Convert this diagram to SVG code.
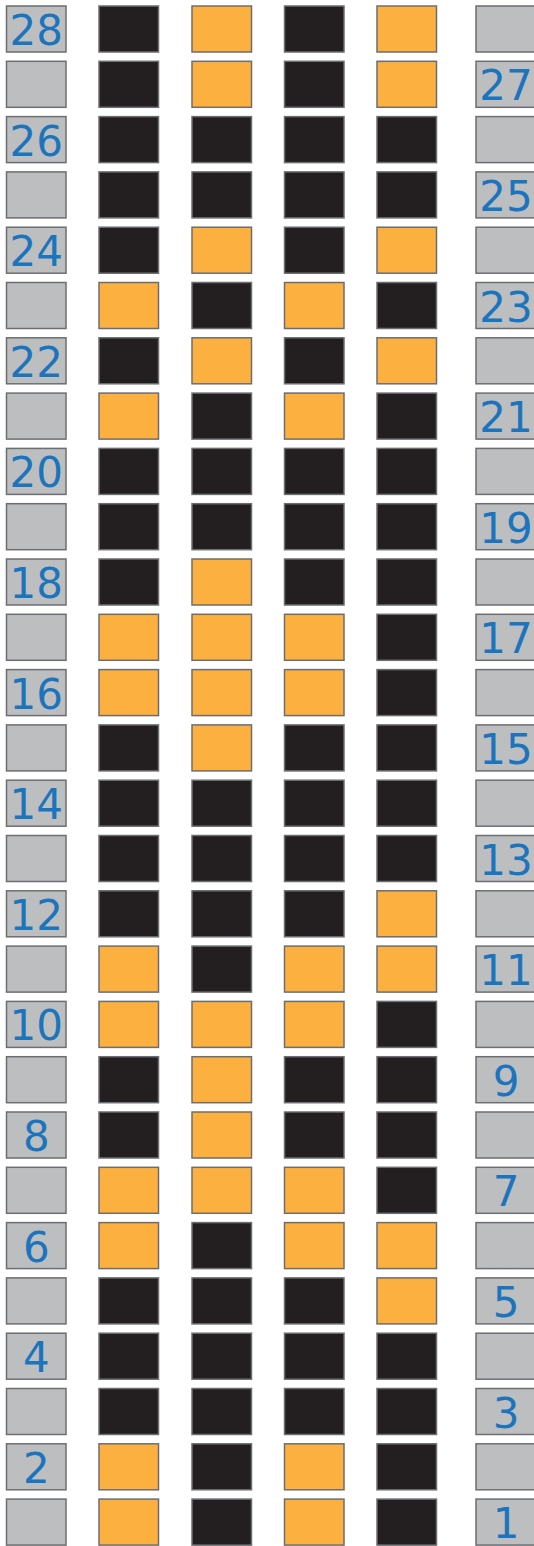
<svg xmlns="http://www.w3.org/2000/svg" width="534" height="1546" viewBox="0 0 534 1546">
<style>
rect{stroke:#6d6e71;stroke-width:1.5}
.g{fill:#bcbec0}.k{fill:#231f20}.o{fill:#fbb040}
text{font-family:"DejaVu Sans",sans-serif;font-size:42px;fill:#1c75bc;text-anchor:middle}
</style>
<rect width="534" height="1546" fill="#ffffff" style="stroke:none"/>
<g id="connectors"></g>
<g id="row28" transform="translate(0,6)"><g id="n28-1"><rect class="g" x="6.5" width="59.5" height="46"/><text x="36.3" y="39">28</text></g><g id="n28-2"><rect class="k" x="99" width="59.5" height="46"/></g><g id="n28-3"><rect class="o" x="192" width="59.5" height="46"/></g><g id="n28-4"><rect class="k" x="284.5" width="59.5" height="46"/></g><g id="n28-5"><rect class="o" x="377" width="59.5" height="46"/></g><g id="n28-6"><rect class="g" x="476" width="60" height="46"/></g></g>
<g id="row27" transform="translate(0,61.3)"><g id="n27-1"><rect class="g" x="6.5" width="59.5" height="46"/></g><g id="n27-2"><rect class="k" x="99" width="59.5" height="46"/></g><g id="n27-3"><rect class="o" x="192" width="59.5" height="46"/></g><g id="n27-4"><rect class="k" x="284.5" width="59.5" height="46"/></g><g id="n27-5"><rect class="o" x="377" width="59.5" height="46"/></g><g id="n27-6"><rect class="g" x="476" width="60" height="46"/><text x="506" y="39">27</text></g></g>
<g id="row26" transform="translate(0,116.6)"><g id="n26-1"><rect class="g" x="6.5" width="59.5" height="46"/><text x="36.3" y="39">26</text></g><g id="n26-2"><rect class="k" x="99" width="59.5" height="46"/></g><g id="n26-3"><rect class="k" x="192" width="59.5" height="46"/></g><g id="n26-4"><rect class="k" x="284.5" width="59.5" height="46"/></g><g id="n26-5"><rect class="k" x="377" width="59.5" height="46"/></g><g id="n26-6"><rect class="g" x="476" width="60" height="46"/></g></g>
<g id="row25" transform="translate(0,171.9)"><g id="n25-1"><rect class="g" x="6.5" width="59.5" height="46"/></g><g id="n25-2"><rect class="k" x="99" width="59.5" height="46"/></g><g id="n25-3"><rect class="k" x="192" width="59.5" height="46"/></g><g id="n25-4"><rect class="k" x="284.5" width="59.5" height="46"/></g><g id="n25-5"><rect class="k" x="377" width="59.5" height="46"/></g><g id="n25-6"><rect class="g" x="476" width="60" height="46"/><text x="506" y="39">25</text></g></g>
<g id="row24" transform="translate(0,227.2)"><g id="n24-1"><rect class="g" x="6.5" width="59.5" height="46"/><text x="36.3" y="39">24</text></g><g id="n24-2"><rect class="k" x="99" width="59.5" height="46"/></g><g id="n24-3"><rect class="o" x="192" width="59.5" height="46"/></g><g id="n24-4"><rect class="k" x="284.5" width="59.5" height="46"/></g><g id="n24-5"><rect class="o" x="377" width="59.5" height="46"/></g><g id="n24-6"><rect class="g" x="476" width="60" height="46"/></g></g>
<g id="row23" transform="translate(0,282.5)"><g id="n23-1"><rect class="g" x="6.5" width="59.5" height="46"/></g><g id="n23-2"><rect class="o" x="99" width="59.5" height="46"/></g><g id="n23-3"><rect class="k" x="192" width="59.5" height="46"/></g><g id="n23-4"><rect class="o" x="284.5" width="59.5" height="46"/></g><g id="n23-5"><rect class="k" x="377" width="59.5" height="46"/></g><g id="n23-6"><rect class="g" x="476" width="60" height="46"/><text x="506" y="39">23</text></g></g>
<g id="row22" transform="translate(0,337.8)"><g id="n22-1"><rect class="g" x="6.5" width="59.5" height="46"/><text x="36.3" y="39">22</text></g><g id="n22-2"><rect class="k" x="99" width="59.5" height="46"/></g><g id="n22-3"><rect class="o" x="192" width="59.5" height="46"/></g><g id="n22-4"><rect class="k" x="284.5" width="59.5" height="46"/></g><g id="n22-5"><rect class="o" x="377" width="59.5" height="46"/></g><g id="n22-6"><rect class="g" x="476" width="60" height="46"/></g></g>
<g id="row21" transform="translate(0,393.1)"><g id="n21-1"><rect class="g" x="6.5" width="59.5" height="46"/></g><g id="n21-2"><rect class="o" x="99" width="59.5" height="46"/></g><g id="n21-3"><rect class="k" x="192" width="59.5" height="46"/></g><g id="n21-4"><rect class="o" x="284.5" width="59.5" height="46"/></g><g id="n21-5"><rect class="k" x="377" width="59.5" height="46"/></g><g id="n21-6"><rect class="g" x="476" width="60" height="46"/><text x="506" y="39">21</text></g></g>
<g id="row20" transform="translate(0,448.4)"><g id="n20-1"><rect class="g" x="6.5" width="59.5" height="46"/><text x="36.3" y="39">20</text></g><g id="n20-2"><rect class="k" x="99" width="59.5" height="46"/></g><g id="n20-3"><rect class="k" x="192" width="59.5" height="46"/></g><g id="n20-4"><rect class="k" x="284.5" width="59.5" height="46"/></g><g id="n20-5"><rect class="k" x="377" width="59.5" height="46"/></g><g id="n20-6"><rect class="g" x="476" width="60" height="46"/></g></g>
<g id="row19" transform="translate(0,503.7)"><g id="n19-1"><rect class="g" x="6.5" width="59.5" height="46"/></g><g id="n19-2"><rect class="k" x="99" width="59.5" height="46"/></g><g id="n19-3"><rect class="k" x="192" width="59.5" height="46"/></g><g id="n19-4"><rect class="k" x="284.5" width="59.5" height="46"/></g><g id="n19-5"><rect class="k" x="377" width="59.5" height="46"/></g><g id="n19-6"><rect class="g" x="476" width="60" height="46"/><text x="506" y="39">19</text></g></g>
<g id="row18" transform="translate(0,559)"><g id="n18-1"><rect class="g" x="6.5" width="59.5" height="46"/><text x="36.3" y="39">18</text></g><g id="n18-2"><rect class="k" x="99" width="59.5" height="46"/></g><g id="n18-3"><rect class="o" x="192" width="59.5" height="46"/></g><g id="n18-4"><rect class="k" x="284.5" width="59.5" height="46"/></g><g id="n18-5"><rect class="k" x="377" width="59.5" height="46"/></g><g id="n18-6"><rect class="g" x="476" width="60" height="46"/></g></g>
<g id="row17" transform="translate(0,614.3)"><g id="n17-1"><rect class="g" x="6.5" width="59.5" height="46"/></g><g id="n17-2"><rect class="o" x="99" width="59.5" height="46"/></g><g id="n17-3"><rect class="o" x="192" width="59.5" height="46"/></g><g id="n17-4"><rect class="o" x="284.5" width="59.5" height="46"/></g><g id="n17-5"><rect class="k" x="377" width="59.5" height="46"/></g><g id="n17-6"><rect class="g" x="476" width="60" height="46"/><text x="506" y="39">17</text></g></g>
<g id="row16" transform="translate(0,669.6)"><g id="n16-1"><rect class="g" x="6.5" width="59.5" height="46"/><text x="36.3" y="39">16</text></g><g id="n16-2"><rect class="o" x="99" width="59.5" height="46"/></g><g id="n16-3"><rect class="o" x="192" width="59.5" height="46"/></g><g id="n16-4"><rect class="o" x="284.5" width="59.5" height="46"/></g><g id="n16-5"><rect class="k" x="377" width="59.5" height="46"/></g><g id="n16-6"><rect class="g" x="476" width="60" height="46"/></g></g>
<g id="row15" transform="translate(0,724.9)"><g id="n15-1"><rect class="g" x="6.5" width="59.5" height="46"/></g><g id="n15-2"><rect class="k" x="99" width="59.5" height="46"/></g><g id="n15-3"><rect class="o" x="192" width="59.5" height="46"/></g><g id="n15-4"><rect class="k" x="284.5" width="59.5" height="46"/></g><g id="n15-5"><rect class="k" x="377" width="59.5" height="46"/></g><g id="n15-6"><rect class="g" x="476" width="60" height="46"/><text x="506" y="39">15</text></g></g>
<g id="row14" transform="translate(0,780.2)"><g id="n14-1"><rect class="g" x="6.5" width="59.5" height="46"/><text x="36.3" y="39">14</text></g><g id="n14-2"><rect class="k" x="99" width="59.5" height="46"/></g><g id="n14-3"><rect class="k" x="192" width="59.5" height="46"/></g><g id="n14-4"><rect class="k" x="284.5" width="59.5" height="46"/></g><g id="n14-5"><rect class="k" x="377" width="59.5" height="46"/></g><g id="n14-6"><rect class="g" x="476" width="60" height="46"/></g></g>
<g id="row13" transform="translate(0,835.5)"><g id="n13-1"><rect class="g" x="6.5" width="59.5" height="46"/></g><g id="n13-2"><rect class="k" x="99" width="59.5" height="46"/></g><g id="n13-3"><rect class="k" x="192" width="59.5" height="46"/></g><g id="n13-4"><rect class="k" x="284.5" width="59.5" height="46"/></g><g id="n13-5"><rect class="k" x="377" width="59.5" height="46"/></g><g id="n13-6"><rect class="g" x="476" width="60" height="46"/><text x="506" y="39">13</text></g></g>
<g id="row12" transform="translate(0,890.8)"><g id="n12-1"><rect class="g" x="6.5" width="59.5" height="46"/><text x="36.3" y="39">12</text></g><g id="n12-2"><rect class="k" x="99" width="59.5" height="46"/></g><g id="n12-3"><rect class="k" x="192" width="59.5" height="46"/></g><g id="n12-4"><rect class="k" x="284.5" width="59.5" height="46"/></g><g id="n12-5"><rect class="o" x="377" width="59.5" height="46"/></g><g id="n12-6"><rect class="g" x="476" width="60" height="46"/></g></g>
<g id="row11" transform="translate(0,946.1)"><g id="n11-1"><rect class="g" x="6.5" width="59.5" height="46"/></g><g id="n11-2"><rect class="o" x="99" width="59.5" height="46"/></g><g id="n11-3"><rect class="k" x="192" width="59.5" height="46"/></g><g id="n11-4"><rect class="o" x="284.5" width="59.5" height="46"/></g><g id="n11-5"><rect class="o" x="377" width="59.5" height="46"/></g><g id="n11-6"><rect class="g" x="476" width="60" height="46"/><text x="506" y="39">11</text></g></g>
<g id="row10" transform="translate(0,1001.4)"><g id="n10-1"><rect class="g" x="6.5" width="59.5" height="46"/><text x="36.3" y="39">10</text></g><g id="n10-2"><rect class="o" x="99" width="59.5" height="46"/></g><g id="n10-3"><rect class="o" x="192" width="59.5" height="46"/></g><g id="n10-4"><rect class="o" x="284.5" width="59.5" height="46"/></g><g id="n10-5"><rect class="k" x="377" width="59.5" height="46"/></g><g id="n10-6"><rect class="g" x="476" width="60" height="46"/></g></g>
<g id="row9" transform="translate(0,1056.7)"><g id="n9-1"><rect class="g" x="6.5" width="59.5" height="46"/></g><g id="n9-2"><rect class="k" x="99" width="59.5" height="46"/></g><g id="n9-3"><rect class="o" x="192" width="59.5" height="46"/></g><g id="n9-4"><rect class="k" x="284.5" width="59.5" height="46"/></g><g id="n9-5"><rect class="k" x="377" width="59.5" height="46"/></g><g id="n9-6"><rect class="g" x="476" width="60" height="46"/><text x="506" y="39">9</text></g></g>
<g id="row8" transform="translate(0,1112)"><g id="n8-1"><rect class="g" x="6.5" width="59.5" height="46"/><text x="36.3" y="39">8</text></g><g id="n8-2"><rect class="k" x="99" width="59.5" height="46"/></g><g id="n8-3"><rect class="o" x="192" width="59.5" height="46"/></g><g id="n8-4"><rect class="k" x="284.5" width="59.5" height="46"/></g><g id="n8-5"><rect class="k" x="377" width="59.5" height="46"/></g><g id="n8-6"><rect class="g" x="476" width="60" height="46"/></g></g>
<g id="row7" transform="translate(0,1167.3)"><g id="n7-1"><rect class="g" x="6.5" width="59.5" height="46"/></g><g id="n7-2"><rect class="o" x="99" width="59.5" height="46"/></g><g id="n7-3"><rect class="o" x="192" width="59.5" height="46"/></g><g id="n7-4"><rect class="o" x="284.5" width="59.5" height="46"/></g><g id="n7-5"><rect class="k" x="377" width="59.5" height="46"/></g><g id="n7-6"><rect class="g" x="476" width="60" height="46"/><text x="506" y="39">7</text></g></g>
<g id="row6" transform="translate(0,1222.6)"><g id="n6-1"><rect class="g" x="6.5" width="59.5" height="46"/><text x="36.3" y="39">6</text></g><g id="n6-2"><rect class="o" x="99" width="59.5" height="46"/></g><g id="n6-3"><rect class="k" x="192" width="59.5" height="46"/></g><g id="n6-4"><rect class="o" x="284.5" width="59.5" height="46"/></g><g id="n6-5"><rect class="o" x="377" width="59.5" height="46"/></g><g id="n6-6"><rect class="g" x="476" width="60" height="46"/></g></g>
<g id="row5" transform="translate(0,1277.9)"><g id="n5-1"><rect class="g" x="6.5" width="59.5" height="46"/></g><g id="n5-2"><rect class="k" x="99" width="59.5" height="46"/></g><g id="n5-3"><rect class="k" x="192" width="59.5" height="46"/></g><g id="n5-4"><rect class="k" x="284.5" width="59.5" height="46"/></g><g id="n5-5"><rect class="o" x="377" width="59.5" height="46"/></g><g id="n5-6"><rect class="g" x="476" width="60" height="46"/><text x="506" y="39">5</text></g></g>
<g id="row4" transform="translate(0,1333.2)"><g id="n4-1"><rect class="g" x="6.5" width="59.5" height="46"/><text x="36.3" y="39">4</text></g><g id="n4-2"><rect class="k" x="99" width="59.5" height="46"/></g><g id="n4-3"><rect class="k" x="192" width="59.5" height="46"/></g><g id="n4-4"><rect class="k" x="284.5" width="59.5" height="46"/></g><g id="n4-5"><rect class="k" x="377" width="59.5" height="46"/></g><g id="n4-6"><rect class="g" x="476" width="60" height="46"/></g></g>
<g id="row3" transform="translate(0,1388.5)"><g id="n3-1"><rect class="g" x="6.5" width="59.5" height="46"/></g><g id="n3-2"><rect class="k" x="99" width="59.5" height="46"/></g><g id="n3-3"><rect class="k" x="192" width="59.5" height="46"/></g><g id="n3-4"><rect class="k" x="284.5" width="59.5" height="46"/></g><g id="n3-5"><rect class="k" x="377" width="59.5" height="46"/></g><g id="n3-6"><rect class="g" x="476" width="60" height="46"/><text x="506" y="39">3</text></g></g>
<g id="row2" transform="translate(0,1443.8)"><g id="n2-1"><rect class="g" x="6.5" width="59.5" height="46"/><text x="36.3" y="39">2</text></g><g id="n2-2"><rect class="o" x="99" width="59.5" height="46"/></g><g id="n2-3"><rect class="k" x="192" width="59.5" height="46"/></g><g id="n2-4"><rect class="o" x="284.5" width="59.5" height="46"/></g><g id="n2-5"><rect class="k" x="377" width="59.5" height="46"/></g><g id="n2-6"><rect class="g" x="476" width="60" height="46"/></g></g>
<g id="row1" transform="translate(0,1499.1)"><g id="n1-1"><rect class="g" x="6.5" width="59.5" height="46"/></g><g id="n1-2"><rect class="o" x="99" width="59.5" height="46"/></g><g id="n1-3"><rect class="k" x="192" width="59.5" height="46"/></g><g id="n1-4"><rect class="o" x="284.5" width="59.5" height="46"/></g><g id="n1-5"><rect class="k" x="377" width="59.5" height="46"/></g><g id="n1-6"><rect class="g" x="476" width="60" height="46"/><text x="506" y="39">1</text></g></g>
</svg>
